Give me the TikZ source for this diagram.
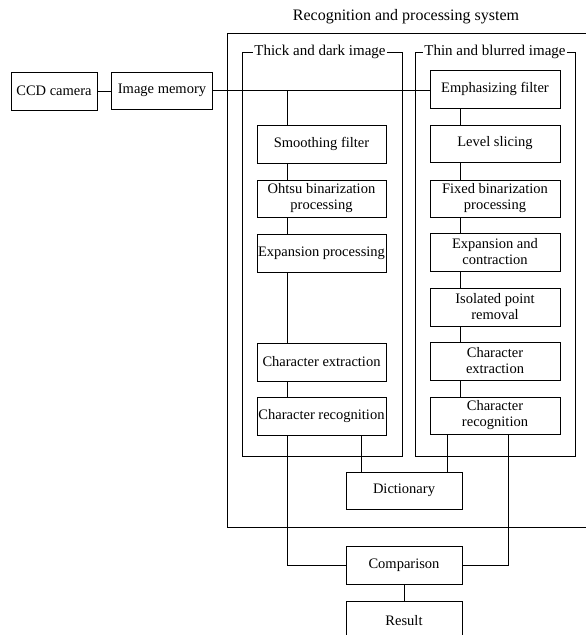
\documentclass[tikz,border=0pt]{standalone}
\usepackage{fontspec}
\setmainfont{Liberation Serif}
\begin{document}
\begin{tikzpicture}[x=1pt,y=-1pt,
  every node/.style={font=\fontsize{14.5}{16}\selectfont},
  box/.style={draw, line width=0.9pt, inner sep=0pt, align=center, minimum height=38pt},
  colbox/.style={box, minimum width=130pt},
  wire/.style={line width=0.7pt},
  frame/.style={line width=0.9pt},
  flabel/.style={fill=white, inner sep=1.5pt, font=\fontsize{15}{17}\selectfont}]
\useasboundingbox (0,0) rectangle (586,635);
% frames
\draw[frame] (592,33) -- (227,33) -- (227,527) -- (592,527);
\node[font=\fontsize{16}{18}\selectfont] (title) at (406,17) {Recognition and processing system};
\draw[frame] (242,52) rectangle (402,456);
\node[flabel] (lframe) at (320,52) {Thick and dark image};
\draw[frame] (415,52) rectangle (575,456);
\node[flabel] (rframe) at (495,52) {Thin and blurred image};
% input boxes
\node[box, minimum width=86pt] (ccd) at (54,91) {CCD camera};
\node[box, minimum width=101pt, minimum height=37pt] (img) at (162,90.5) {Image memory};
% left column
\node[colbox, minimum width=129pt] (smooth) at (321.5,144) {Smoothing filter};
\node[colbox, minimum width=129pt, minimum height=37pt] (ohtsu) at (321.5,198.5) {Ohtsu binarization\\processing};
\node[colbox, minimum width=129pt] (expl) at (321.5,253) {Expansion processing};
\node[colbox, minimum width=129pt] (extl) at (321.5,362) {Character extraction};
\node[colbox, minimum width=129pt] (recl) at (321.5,416) {Character recognition};
% right column
\node[colbox] (emph) at (495,89) {Emphasizing filter};
\node[colbox, minimum height=37pt] (level) at (495,143.5) {Level slicing};
\node[colbox, minimum height=37pt] (fixed) at (495,198.5) {Fixed binarization\\processing};
\node[colbox] (expc) at (495,252) {Expansion and\\contraction};
\node[colbox] (iso) at (495,307) {Isolated point\\removal};
\node[colbox] (extr) at (495,361) {Character\\extraction};
\node[colbox, minimum height=37pt] (recr) at (495,415.5) {Character\\recognition};
% bottom
\node[box, minimum width=116pt, minimum height=37pt] (dict) at (404,490.5) {Dictionary};
\node[box, minimum width=116pt] (cmp) at (404,565) {Comparison};
\node[box, minimum width=116pt, minimum height=40pt] (res) at (404,621) {Result};
% coordinates for vertical wires
\coordinate (lx) at (287,0);
\coordinate (rx) at (460,0);
\coordinate (dl) at (361,0);
\coordinate (dr) at (447,0);
\coordinate (cr) at (508,0);
% wires
\draw[wire] (ccd.east) -- (img.west |- ccd.east);
\draw[wire] (img.east) -- (img.east -| emph.west);
\draw[wire] (lx |- img.east) -- (lx |- smooth.north);
\draw[wire] (lx |- smooth.south) -- (lx |- ohtsu.north);
\draw[wire] (lx |- ohtsu.south) -- (lx |- expl.north);
\draw[wire] (lx |- expl.south) -- (lx |- extl.north);
\draw[wire] (lx |- extl.south) -- (lx |- recl.north);
\draw[wire] (rx |- emph.south) -- (rx |- level.north);
\draw[wire] (rx |- level.south) -- (rx |- fixed.north);
\draw[wire] (rx |- fixed.south) -- (rx |- expc.north);
\draw[wire] (rx |- expc.south) -- (rx |- iso.north);
\draw[wire] (rx |- iso.south) -- (rx |- extr.north);
\draw[wire] (rx |- extr.south) -- (rx |- recr.north);
\draw[wire] (dl |- recl.south) -- (dl |- dict.north);
\draw[wire] (dr |- recr.south) -- (dr |- dict.north);
\draw[wire] (lx |- recl.south) -- (lx |- cmp.west) -- (cmp.west);
\draw[wire] (cr |- recr.south) -- (cr |- cmp.east) -- (cmp.east);
\draw[wire] (cmp.south) -- (res.north);
\end{tikzpicture}
\end{document}
